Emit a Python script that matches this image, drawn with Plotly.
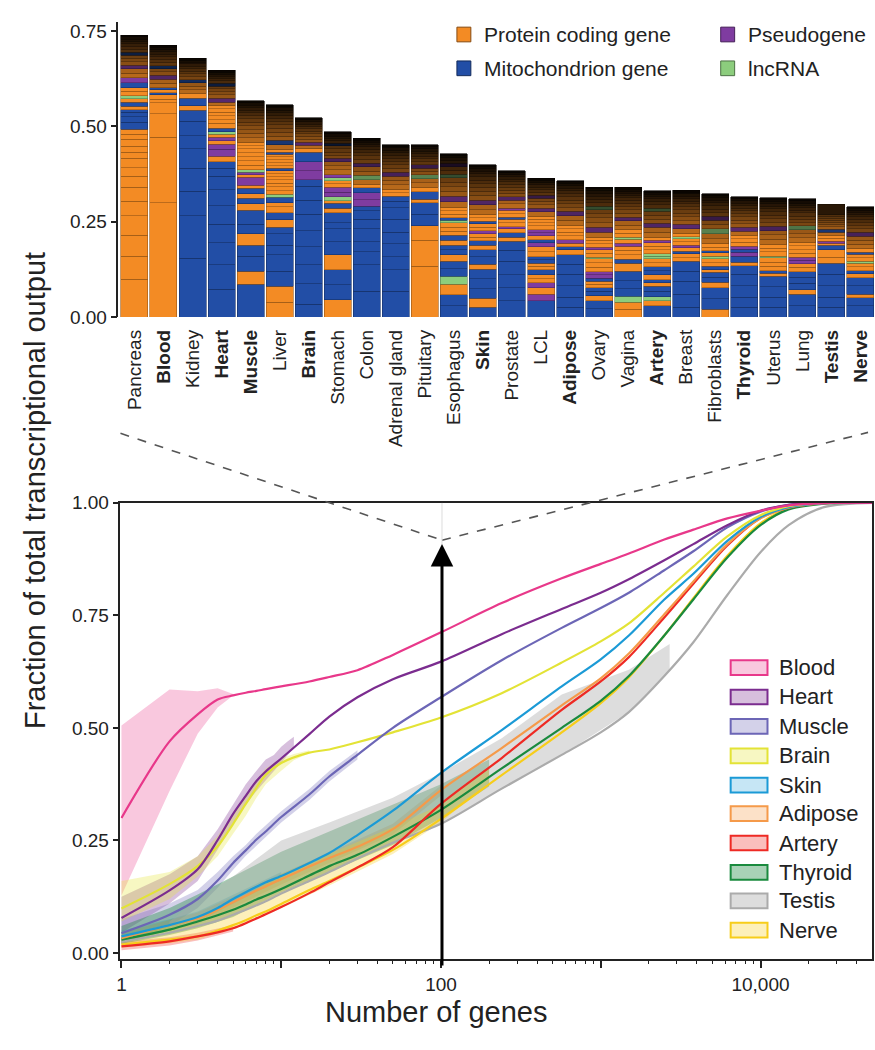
import plotly.graph_objects as go

W, H = 875, 1050


def px(x):
    return x / W


def py(y):
    return 1 - y / H


FONT = "Liberation Sans, Arial, Helvetica, sans-serif"
INK = "#222222"

# ---------------- top panel data ----------------
TISSUES = ["Pancreas", "Blood", "Kidney", "Heart", "Muscle", "Liver", "Brain", "Stomach",
           "Colon", "Adrenal gland", "Pituitary", "Esophagus", "Skin", "Prostate", "LCL",
           "Adipose", "Ovary", "Vagina", "Artery", "Breast", "Fibroblasts", "Thyroid",
           "Uterus", "Lung", "Testis", "Nerve"]
HIGHLIGHT = ["Blood", "Heart", "Muscle", "Brain", "Skin", "Adipose", "Artery", "Thyroid",
             "Testis", "Nerve"]

# gene contributions, from the most expressed gene (bottom) upward
# type codes: O protein coding, M mitochondrion, P pseudogene, L lncRNA
pancreas_v = [0.099, 0.061, 0.054, 0.052, 0.038, 0.037, 0.028, 0.023, 0.024, 0.017, 0.015, 0.018,
              0.014, 0.013, 0.018, 0.014, 0.012, 0.007, 0.009, 0.010, 0.010, 0.007, 0.012, 0.010,
              0.013, 0.013, 0.012, 0.011, 0.010, 0.009, 0.009, 0.008, 0.008, 0.008, 0.007, 0.007,
              0.006, 0.006, 0.006, 0.005]
pancreas_t = "OOOOOOOOOOOOOOMMMMOMOLOOMP" + "OOPOOOMOOOOOOO"
blood_v = [0.300, 0.172, 0.062, 0.028, 0.010, 0.011, 0.006, 0.007, 0.005, 0.012, 0.011, 0.010,
           0.009, 0.009, 0.008, 0.008, 0.008, 0.007, 0.007, 0.006, 0.006, 0.006, 0.005]
blood_t = "OOOOOOMOM" + "OOPOOMOOOOOOOO"
kidney_v = [0.154, 0.112, 0.064, 0.060, 0.052, 0.034, 0.038, 0.029, 0.012, 0.019, 0.013, 0.010,
            0.009, 0.009, 0.008, 0.008, 0.007, 0.007, 0.007, 0.006, 0.006, 0.005, 0.005, 0.005]
kidney_t = "MMMMMMMMOMO" + "OOOMOOOOOOOOO"
heart_v = [0.073, 0.064, 0.058, 0.048, 0.049, 0.042, 0.035, 0.021, 0.017, 0.015, 0.018, 0.014,
           0.008, 0.010, 0.008, 0.006, 0.010, 0.012, 0.010, 0.010, 0.009, 0.009, 0.008, 0.010,
           0.010, 0.009, 0.008, 0.008, 0.007, 0.007, 0.007, 0.006, 0.006, 0.005, 0.005, 0.005]
heart_t = "MMMMMMMMMOPPOPOLMOOOOOO" + "OPOOOOMOOOOOO"
muscle_v = [0.086, 0.034, 0.039, 0.030, 0.030, 0.025, 0.036, 0.017, 0.015, 0.011, 0.015, 0.008,
            0.021, 0.006, 0.007, 0.006, 0.012, 0.012, 0.011, 0.010, 0.010, 0.009, 0.009, 0.012,
            0.011, 0.010, 0.010, 0.009, 0.009, 0.008, 0.008, 0.007, 0.007, 0.006, 0.006, 0.005]
muscle_t = "MOMMOMMOMOMOPOPLOOOOOOO" + "OOOOOOOOOOOOO"
liver_v = [0.039, 0.042, 0.039, 0.043, 0.026, 0.030, 0.017, 0.019, 0.019, 0.016, 0.010, 0.014,
           0.008, 0.010, 0.010, 0.009, 0.009, 0.008, 0.008, 0.008, 0.006, 0.007, 0.008, 0.008,
           0.007, 0.007, 0.005, 0.007, 0.013, 0.012, 0.011, 0.010, 0.010, 0.009, 0.009, 0.008,
           0.008, 0.007, 0.007, 0.006, 0.004, 0.004]
liver_t = "OOMMMMMOMOOMLOOOOOOOMOOOOOMO" + "OMOOOOOOOOOOOO"
brain_v = [0.034, 0.053, 0.050, 0.047, 0.043, 0.043, 0.037, 0.036, 0.017, 0.024, 0.023, 0.026,
           0.009, 0.009, 0.008, 0.008, 0.007, 0.007, 0.007, 0.006, 0.006, 0.006, 0.006, 0.006,
           0.005]
brain_t = "MMMMMMMMMPPMO" + "OPOOOOOOOOOO"
stomach_v = [0.045, 0.040, 0.039, 0.039, 0.034, 0.034, 0.017, 0.026, 0.011, 0.013, 0.007, 0.010,
             0.013, 0.012, 0.010, 0.008, 0.008, 0.008, 0.012, 0.011, 0.010, 0.009, 0.009, 0.008,
             0.008, 0.008, 0.007, 0.007, 0.006, 0.006, 0.006, 0.005]
stomach_t = "OMMOMMMMOMOLPPOOLP" + "OOOPOOOOMOOOOO"
colon_v = [0.068, 0.069, 0.034, 0.026, 0.034, 0.026, 0.022, 0.012, 0.017, 0.018, 0.013, 0.008,
           0.013, 0.012, 0.011, 0.011, 0.010, 0.010, 0.009, 0.009, 0.008, 0.007, 0.006, 0.006,
           0.005, 0.005]
colon_t = "MMMMMMMMPPMO" + "OLOOPOOOOOOOOO"
adrenal_v = [0.068, 0.056, 0.034, 0.034, 0.030, 0.035, 0.030, 0.017, 0.013, 0.009, 0.008, 0.013,
             0.012, 0.011, 0.010, 0.010, 0.009, 0.009, 0.008, 0.008, 0.007, 0.007, 0.006, 0.004,
             0.004]
adrenal_t = "MMMMMMMMMOO" + "OOOPOOOOOOOOOO"
pituitary_v = [0.133, 0.068, 0.039, 0.030, 0.030, 0.009, 0.020, 0.011, 0.012, 0.011, 0.010, 0.009,
               0.009, 0.008, 0.008, 0.008, 0.007, 0.007, 0.006, 0.006, 0.006, 0.005]
pituitary_t = "OOOMMOMO" + "OOLOOPOOOOOOOO"
esophagus_v = [0.030, 0.028, 0.028, 0.021, 0.020, 0.019, 0.017, 0.013, 0.012, 0.013, 0.013, 0.011,
               0.011, 0.012, 0.006, 0.006, 0.010, 0.009, 0.009, 0.015, 0.014, 0.013, 0.012, 0.012,
               0.011, 0.010, 0.010, 0.009, 0.009, 0.008, 0.007, 0.006, 0.005]
esophagus_t = "MMOLMMOMMOMOOOLMOOO" + "OPOOOOLOOPOOOO"
skin_v = [0.026, 0.023, 0.025, 0.026, 0.026, 0.013, 0.019, 0.019, 0.012, 0.011, 0.009, 0.010,
          0.008, 0.009, 0.009, 0.006, 0.009, 0.008, 0.014, 0.013, 0.012, 0.012, 0.011, 0.010,
          0.010, 0.009, 0.009, 0.008, 0.007, 0.007, 0.005, 0.005]
skin_t = "MOMMMOMMOMOOPOOMOO" + "OOPOOOOOOOOOOO"
prostate_v = [0.043, 0.034, 0.034, 0.036, 0.028, 0.024, 0.011, 0.011, 0.010, 0.006, 0.010, 0.009,
              0.006, 0.009, 0.009, 0.006, 0.011, 0.010, 0.009, 0.009, 0.008, 0.008, 0.007, 0.007,
              0.007, 0.006, 0.006, 0.005, 0.005]
prostate_t = "MMMMMMOMOPOOMOOP" + "OOPOOOOOOOOOO"
lcl_v = [0.043, 0.017, 0.017, 0.013, 0.011, 0.010, 0.013, 0.009, 0.008, 0.009, 0.008, 0.013,
         0.013, 0.011, 0.008, 0.010, 0.008, 0.008, 0.010, 0.009, 0.009, 0.008, 0.011, 0.010,
         0.009, 0.009, 0.008, 0.008, 0.007, 0.007, 0.007, 0.006, 0.006, 0.006, 0.005]
lcl_t = "MPOPOOMOOMMOOPMOPPOOOO" + "OPOOOPOOOOOOO"
adipose_v = [0.026, 0.026, 0.030, 0.030, 0.026, 0.025, 0.013, 0.009, 0.008, 0.010, 0.010, 0.010,
             0.009, 0.009, 0.013, 0.012, 0.011, 0.010, 0.010, 0.009, 0.009, 0.008, 0.008, 0.007,
             0.007, 0.006, 0.004, 0.003]
adipose_t = "MMMMMMOMOPOOOO" + "OOPOOOOOOOOOOO"
ovary_v = [0.022, 0.021, 0.013, 0.011, 0.010, 0.009, 0.008, 0.008, 0.009, 0.008, 0.012, 0.011,
           0.011, 0.004, 0.010, 0.010, 0.006, 0.009, 0.009, 0.008, 0.014, 0.013, 0.012, 0.012,
           0.011, 0.010, 0.010, 0.009, 0.009, 0.008, 0.007, 0.007, 0.005, 0.005]
ovary_t = "MMOMMOOMPPOOOLOOPOOO" + "OPOOOOLOOOOOOO"
vagina_v = [0.020, 0.019, 0.015, 0.020, 0.021, 0.025, 0.021, 0.011, 0.012, 0.011, 0.011, 0.008,
            0.010, 0.006, 0.010, 0.009, 0.012, 0.011, 0.010, 0.010, 0.009, 0.009, 0.008, 0.008,
            0.007, 0.006, 0.006, 0.005, 0.005, 0.005]
vagina_t = "OOLMMMOMOOOPOLOO" + "OOPOOOOOOOOOOO"
artery_v = [0.030, 0.013, 0.010, 0.014, 0.014, 0.009, 0.008, 0.013, 0.011, 0.010, 0.011, 0.010,
            0.007, 0.006, 0.010, 0.010, 0.009, 0.006, 0.009, 0.013, 0.012, 0.011, 0.011, 0.010,
            0.010, 0.009, 0.009, 0.008, 0.007, 0.006, 0.006, 0.005, 0.005]
artery_t = "MOLMMOMOMMOOLLOOOPO" + "OOPOOOLOOOOOOO"
breast_v = [0.026, 0.034, 0.034, 0.026, 0.026, 0.010, 0.010, 0.006, 0.010, 0.006, 0.009, 0.009,
            0.005, 0.009, 0.012, 0.011, 0.010, 0.010, 0.009, 0.009, 0.008, 0.008, 0.007, 0.007,
            0.006, 0.006, 0.005, 0.005]
breast_t = "MMMMMOOMOPOOLO" + "OPOOOOOOOOOOOO"
fibroblasts_v = [0.021, 0.027, 0.029, 0.014, 0.014, 0.013, 0.006, 0.009, 0.010, 0.010, 0.006,
                 0.010, 0.005, 0.009, 0.009, 0.014, 0.013, 0.012, 0.012, 0.011, 0.010, 0.010,
                 0.009, 0.009, 0.008, 0.007, 0.007, 0.005, 0.005]
fibroblasts_t = "OMMOMMOMOOLOMOO" + "OOLOOPOOOOOOOO"
thyroid_v = [0.026, 0.026, 0.030, 0.030, 0.023, 0.009, 0.015, 0.011, 0.008, 0.008, 0.010, 0.009,
             0.009, 0.011, 0.010, 0.010, 0.009, 0.009, 0.008, 0.008, 0.007, 0.007, 0.006, 0.006,
             0.006, 0.005]
thyroid_t = "MMMMMOMPMPOOO" + "OPOOOOOOOOOOO"
uterus_v = [0.026, 0.026, 0.028, 0.027, 0.008, 0.006, 0.012, 0.011, 0.011, 0.005, 0.011, 0.010,
            0.010, 0.013, 0.012, 0.011, 0.011, 0.010, 0.010, 0.009, 0.009, 0.008, 0.007, 0.006,
            0.006, 0.005, 0.005]
uterus_t = "MMMMOMOOOLOOO" + "OOOPOOOOOOOOOO"
lung_v = [0.030, 0.030, 0.012, 0.016, 0.016, 0.015, 0.011, 0.010, 0.009, 0.008, 0.010, 0.010,
          0.010, 0.009, 0.012, 0.011, 0.010, 0.010, 0.009, 0.009, 0.008, 0.008, 0.007, 0.007,
          0.006, 0.006, 0.006, 0.005]
lung_t = "MMOMMMOOPPOOOO" + "OOOLOOOOOOOOOO"
testis_v = [0.026, 0.026, 0.030, 0.030, 0.029, 0.016, 0.019, 0.012, 0.006, 0.005, 0.008, 0.008,
            0.008, 0.007, 0.007, 0.006, 0.006, 0.005, 0.005, 0.005, 0.004, 0.028]
testis_t = "MMMMMOOMOPOO" + "OMOOOOOOOO"
nerve_v = [0.030, 0.021, 0.009, 0.022, 0.021, 0.010, 0.009, 0.010, 0.009, 0.005, 0.010, 0.009,
           0.005, 0.009, 0.012, 0.011, 0.010, 0.010, 0.009, 0.009, 0.008, 0.008, 0.007, 0.006,
           0.006, 0.005, 0.005, 0.005]
nerve_t = "MMOMMOMOOLOOMO" + "OOOPOOOOOOOOOO"

SEG_VALUES = [pancreas_v, blood_v, kidney_v, heart_v, muscle_v, liver_v, brain_v, stomach_v,
              colon_v, adrenal_v, pituitary_v, esophagus_v, skin_v, prostate_v, lcl_v, adipose_v,
              ovary_v, vagina_v, artery_v, breast_v, fibroblasts_v, thyroid_v, uterus_v, lung_v,
              testis_v, nerve_v]
SEG_TYPES = [pancreas_t, blood_t, kidney_t, heart_t, muscle_t, liver_t, brain_t, stomach_t,
             colon_t, adrenal_t, pituitary_t, esophagus_t, skin_t, prostate_t, lcl_t, adipose_t,
             ovary_t, vagina_t, artery_t, breast_t, fibroblasts_t, thyroid_t, uterus_t, lung_t,
             testis_t, nerve_t]
# number of leading (brightly drawn) genes per tissue; the rest fade towards black
HEAD_N = [26, 9, 11, 23, 23, 28, 13, 18, 12, 11, 8, 19, 18, 16, 22, 14, 20, 16, 19, 14, 15, 13,
          13, 14, 12, 14]

TYPE_RGB = {"O": (243, 139, 36), "M": (34, 78, 166), "P": (127, 60, 160), "L": (140, 205, 125)}
TYPE_NAMES = [("O", "Protein coding gene"), ("M", "Mitochondrion gene"),
              ("P", "Pseudogene"), ("L", "lncRNA")]

# ---------------- bottom panel data ----------------
N_GRID = [1, 2, 3, 4, 5, 6, 7, 8, 10, 15, 20, 30, 50, 100, 240, 570, 1000, 1500, 2500, 3800,
          6200, 10000, 15000, 25000, 56000]
blood_f = [0.300, 0.470, 0.530, 0.563, 0.572, 0.578, 0.582, 0.586, 0.592, 0.603, 0.613, 0.628,
           0.662, 0.712, 0.777, 0.832, 0.864, 0.887, 0.918, 0.940, 0.965, 0.982, 0.994, 0.999, 1.0]
heart_f = [0.078, 0.139, 0.186, 0.251, 0.309, 0.349, 0.382, 0.403, 0.432, 0.486, 0.525, 0.568,
           0.608, 0.647, 0.708, 0.764, 0.800, 0.830, 0.872, 0.908, 0.950, 0.982, 0.995, 1.0, 1.0]
muscle_f = [0.044, 0.085, 0.120, 0.161, 0.200, 0.228, 0.252, 0.270, 0.302, 0.352, 0.392, 0.440,
            0.500, 0.568, 0.650, 0.722, 0.766, 0.800, 0.850, 0.892, 0.945, 0.980, 0.995, 1.0, 1.0]
brain_f = [0.099, 0.153, 0.193, 0.237, 0.287, 0.331, 0.367, 0.396, 0.422, 0.445, 0.452, 0.468,
           0.490, 0.523, 0.577, 0.645, 0.692, 0.732, 0.800, 0.858, 0.925, 0.972, 0.992, 1.0, 1.0]
skin_f = [0.037, 0.062, 0.080, 0.100, 0.120, 0.135, 0.147, 0.157, 0.171, 0.200, 0.222, 0.262,
          0.316, 0.400, 0.495, 0.592, 0.652, 0.705, 0.785, 0.842, 0.915, 0.968, 0.990, 0.999, 1.0]
adipose_f = [0.033, 0.062, 0.077, 0.096, 0.113, 0.127, 0.139, 0.148, 0.164, 0.192, 0.211, 0.236,
             0.275, 0.362, 0.455, 0.550, 0.610, 0.665, 0.752, 0.825, 0.908, 0.965, 0.989, 0.999,
             1.0]
artery_f = [0.015, 0.026, 0.037, 0.046, 0.055, 0.066, 0.077, 0.086, 0.102, 0.133, 0.157, 0.190,
            0.235, 0.331, 0.433, 0.540, 0.603, 0.657, 0.745, 0.820, 0.905, 0.966, 0.989, 0.999,
            1.0]
thyroid_f = [0.030, 0.052, 0.070, 0.084, 0.096, 0.108, 0.119, 0.127, 0.142, 0.172, 0.193, 0.218,
             0.258, 0.318, 0.410, 0.500, 0.560, 0.615, 0.705, 0.785, 0.878, 0.950, 0.985, 0.998,
             1.0]
testis_f = [0.025, 0.045, 0.060, 0.072, 0.085, 0.096, 0.106, 0.115, 0.132, 0.160, 0.180, 0.210,
            0.245, 0.287, 0.365, 0.440, 0.490, 0.535, 0.615, 0.690, 0.795, 0.890, 0.950, 0.990,
            1.0]
nerve_f = [0.019, 0.030, 0.037, 0.050, 0.062, 0.073, 0.084, 0.092, 0.109, 0.140, 0.160, 0.190,
           0.229, 0.298, 0.395, 0.490, 0.555, 0.612, 0.705, 0.788, 0.882, 0.954, 0.987, 0.999,
           1.0]

# variability bands (n, upper, lower)
blood_band = ([1, 2, 3, 4, 5], [0.505, 0.585, 0.581, 0.588, 0.575],
              [0.128, 0.360, 0.487, 0.545, 0.572])
heart_band = ([1, 2, 3, 4, 5, 6, 7, 8, 9, 10, 11, 12],
              [0.125, 0.175, 0.215, 0.275, 0.330, 0.375, 0.405, 0.430, 0.440, 0.458, 0.470, 0.480],
              [0.045, 0.110, 0.160, 0.230, 0.290, 0.330, 0.360, 0.385, 0.405, 0.422, 0.440, 0.455])
brain_band = ([1, 2, 3, 4, 5, 6, 7, 8, 10, 12, 15],
              [0.160, 0.180, 0.215, 0.260, 0.310, 0.350, 0.385, 0.410, 0.432, 0.442, 0.450],
              [0.070, 0.120, 0.170, 0.215, 0.265, 0.305, 0.345, 0.375, 0.405, 0.428, 0.444])
muscle_band = ([1, 2, 3, 4, 5, 6, 7, 8, 10, 15, 20, 30],
               [0.075, 0.110, 0.140, 0.180, 0.215, 0.240, 0.265, 0.283, 0.315, 0.364, 0.404, 0.450],
               [0.020, 0.060, 0.100, 0.145, 0.185, 0.216, 0.240, 0.258, 0.290, 0.340, 0.381, 0.430])
thyroid_band = ([1, 2, 3, 5, 10, 20, 50, 100, 200],
                [0.060, 0.100, 0.130, 0.170, 0.225, 0.270, 0.330, 0.375, 0.430],
                [0.020, 0.040, 0.055, 0.080, 0.135, 0.180, 0.240, 0.300, 0.370])
nerve_band = ([1, 2, 3, 5, 10, 20, 50, 100, 200],
              [0.040, 0.060, 0.080, 0.110, 0.175, 0.220, 0.280, 0.330, 0.410],
              [0.012, 0.022, 0.030, 0.055, 0.100, 0.150, 0.220, 0.290, 0.380])
testis_band = ([2, 3, 5, 10, 20, 50, 100, 240, 570, 1500, 2700],
               [0.070, 0.120, 0.170, 0.250, 0.290, 0.345, 0.400, 0.477, 0.574, 0.629, 0.686],
               [0.045, 0.060, 0.085, 0.132, 0.180, 0.245, 0.287, 0.365, 0.440, 0.535, 0.628])
adipose_band = ([1, 2, 3, 5, 10, 20, 50, 100],
                [0.045, 0.074, 0.090, 0.125, 0.176, 0.223, 0.287, 0.372],
                [0.021, 0.050, 0.065, 0.101, 0.152, 0.199, 0.263, 0.350])
skin_band = ([1, 2, 3, 5, 10], [0.050, 0.075, 0.092, 0.130, 0.180],
             [0.025, 0.050, 0.068, 0.110, 0.162])
artery_band = ([1, 2, 3, 5], [0.025, 0.035, 0.045, 0.062], [0.006, 0.017, 0.028, 0.048])

CURVE_NAMES = ["Blood", "Heart", "Muscle", "Brain", "Skin", "Adipose", "Artery", "Thyroid",
               "Testis", "Nerve"]
CURVES = [blood_f, heart_f, muscle_f, brain_f, skin_f, adipose_f, artery_f, thyroid_f, testis_f,
          nerve_f]
BANDS = [blood_band, heart_band, muscle_band, brain_band, skin_band, adipose_band, artery_band,
         thyroid_band, testis_band, nerve_band]
CURVE_COLORS = ["#E8388A", "#7B2C8F", "#6C66B6", "#E3E336", "#1B9AD6", "#F59A4A", "#EE2A24",
                "#1A8A3E", "#ABABAB", "#F7CD1A"]
BAND_ALPHA = [0.28, 0.30, 0.30, 0.30, 0.25, 0.30, 0.30, 0.38, 0.40, 0.30]


def hex_rgb(h):
    h = h.lstrip("#")
    return tuple(int(h[i:i + 2], 16) for i in (0, 2, 4))


def rgba(h, a):
    r, g, b = hex_rgb(h)
    return f"rgba({r},{g},{b},{a})"


def shade(rgb, f):
    return "rgb({},{},{})".format(*[int(round(c * f)) for c in rgb])


fig = go.Figure()

# ---------------- stacked bars ----------------
max_len = max(len(v) for v in SEG_VALUES)
levels = [[None] * len(TISSUES) for _ in range(max_len)]
fills = [["white"] * len(TISSUES) for _ in range(max_len)]
edges = [["white"] * len(TISSUES) for _ in range(max_len)]
for ti, (vals, types, nh) in enumerate(zip(SEG_VALUES, SEG_TYPES, HEAD_N)):
    head_top = sum(vals[:nh])
    tail_len = sum(vals[nh:])
    cum = 0.0
    for k, (v, t) in enumerate(zip(vals, types)):
        base = TYPE_RGB[t]
        if k < nh:
            f = 1.0
        else:
            pos = (cum + v / 2 - head_top) / tail_len
            dark = 0.22 + 0.76 * pos ** 1.15
            f = 1 - dark
        levels[k][ti] = v
        fills[k][ti] = shade(base, f)
        edges[k][ti] = shade(base, f * 0.62)
        cum += v

for k in range(max_len):
    fig.add_trace(go.Bar(
        x=TISSUES, y=levels[k], xaxis="x", yaxis="y",
        marker=dict(color=fills[k], line=dict(color=edges[k], width=0.6)),
        showlegend=False, hoverinfo="skip"))

# ---------------- cumulative curves ----------------
for name, (n, hi, lo), col, a in zip(CURVE_NAMES, BANDS, CURVE_COLORS, BAND_ALPHA):
    fig.add_trace(go.Scatter(
        x=list(n) + list(n)[::-1], y=list(hi) + list(lo)[::-1], xaxis="x2", yaxis="y2",
        mode="lines", fill="toself", fillcolor=rgba(col, a), line=dict(width=0),
        showlegend=False, hoverinfo="skip"))

order = [8, 9, 7, 6, 5, 4, 3, 2, 1, 0]
for i in order:
    fig.add_trace(go.Scatter(
        x=N_GRID, y=CURVES[i], xaxis="x2", yaxis="y2", mode="lines",
        line=dict(color=CURVE_COLORS[i], width=2.2, shape="spline", smoothing=0.85),
        showlegend=False, hoverinfo="skip"))

# ---------------- axes ----------------
ticktext = [f"<b>{t}</b>" if t in HIGHLIGHT else t for t in TISSUES]
axis_font = dict(family=FONT, size=19, color=INK)

fig.update_layout(
    width=W, height=H, margin=dict(l=0, r=0, t=0, b=0),
    paper_bgcolor="white", plot_bgcolor="white", showlegend=False,
    barmode="stack", bargap=0.07,
    font=dict(family=FONT, color=INK),
    xaxis=dict(domain=[px(115), 1.0], range=[-0.55, 25.5], type="category",
               tickmode="array", tickvals=TISSUES, ticktext=ticktext, tickangle=-90,
               tickfont=axis_font, ticks="", showline=False, showgrid=False, zeroline=False,
               ticklabelstandoff=8, anchor="y"),
    yaxis=dict(domain=[py(313.3), py(12.7)], range=[0, 0.773], tickvals=[0, 0.25, 0.5, 0.75],
               ticktext=["0.00", "0.25", "0.50", "0.75"], tickfont=axis_font, ticks="outside",
               ticklen=6, tickwidth=1.5, tickcolor=INK, showline=True, linecolor=INK,
               linewidth=1.5, showgrid=False, zeroline=False, anchor="x"),
    xaxis2=dict(domain=[px(117), px(872)], type="log", range=[-0.0062, 4.698],
                tickvals=[1, 10, 100, 1000, 10000], ticktext=["1", "", "100", "", "10,000"],
                tickfont=axis_font, ticks="outside", ticklen=8, tickwidth=1.5, tickcolor=INK,
                minor=dict(ticks="outside", ticklen=4, tickwidth=1.2, tickcolor=INK,
                           dtick="D1", showgrid=False),
                showline=True, mirror=True, linecolor=INK, linewidth=1.5, showgrid=False,
                zeroline=False, anchor="y2"),
    yaxis2=dict(domain=[py(968), py(502.7)], range=[-0.0124, 1.0],
                tickvals=[0, 0.25, 0.5, 0.75, 1.0],
                ticktext=["0.00", "0.25", "0.50", "0.75", "1.00"], tickfont=axis_font,
                ticks="outside", ticklen=6, tickwidth=1.5, tickcolor=INK, showline=True,
                mirror=True, linecolor=INK, linewidth=1.5, showgrid=False, zeroline=False,
                anchor="x2"),
)

shapes = []
annotations = []

# zoom-out dashed lines and guide line
shapes.append(dict(type="line", xref="paper", yref="paper", x0=px(117), y0=py(432),
                   x1=px(440), y1=py(541), line=dict(color="#555555", width=1.6, dash="dash")))
shapes.append(dict(type="line", xref="paper", yref="paper", x0=px(440), y0=py(541),
                   x1=px(868), y1=py(431), line=dict(color="#555555", width=1.6, dash="dash")))
shapes.append(dict(type="line", xref="paper", yref="paper", x0=px(440), y0=py(503),
                   x1=px(440), y1=py(545), line=dict(color="#dddddd", width=1)))

# arrow
annotations.append(dict(xref="paper", yref="paper", x=px(440), y=py(545), ax=0, ay=423,
                        axref="pixel", ayref="pixel", showarrow=True, arrowhead=2,
                        arrowsize=1.5, arrowwidth=3, arrowcolor="black", text=""))

# axis titles
annotations.append(dict(xref="paper", yref="paper", x=px(31), y=py(490),
                        text="Fraction of total transcriptional output", textangle=-90,
                        showarrow=False, font=dict(family=FONT, size=29, color=INK),
                        xanchor="center", yanchor="middle"))
annotations.append(dict(xref="paper", yref="paper", x=px(434), y=py(1022),
                        text="Number of genes", showarrow=False,
                        font=dict(family=FONT, size=29, color=INK),
                        xanchor="center", yanchor="middle"))

# top legend (gene types)
top_leg_pos = {"O": (455, 25), "M": (455, 59.5), "P": (720, 25), "L": (720, 59.5)}
for code, label in TYPE_NAMES:
    x0, yc = top_leg_pos[code]
    shapes.append(dict(type="rect", xref="paper", yref="paper", x0=px(x0), x1=px(x0 + 14),
                       y0=py(yc + 7.5), y1=py(yc - 7.5),
                       fillcolor=shade(TYPE_RGB[code], 1.0),
                       line=dict(color=shade(TYPE_RGB[code], 0.55), width=1)))
    annotations.append(dict(xref="paper", yref="paper", x=px(x0 + 25), y=py(yc), text=label,
                            showarrow=False, xanchor="left", yanchor="middle",
                            font=dict(family=FONT, size=21, color=INK)))

# bottom legend (tissues)
leg_y = [671, 701, 731, 761, 791, 820, 850, 880, 909, 939]
for name, col, a, yc in zip(CURVE_NAMES, CURVE_COLORS, BAND_ALPHA, leg_y):
    shapes.append(dict(type="rect", xref="paper", yref="paper", x0=px(730), x1=px(767),
                       y0=py(yc + 7.5), y1=py(yc - 7.5), fillcolor=rgba(col, a),
                       line=dict(color=col, width=2)))
    annotations.append(dict(xref="paper", yref="paper", x=px(777), y=py(yc), text=name,
                            showarrow=False, xanchor="left", yanchor="middle",
                            font=dict(family=FONT, size=22, color=INK)))

fig.update_layout(shapes=shapes, annotations=annotations)
fig.write_html("out.html")
